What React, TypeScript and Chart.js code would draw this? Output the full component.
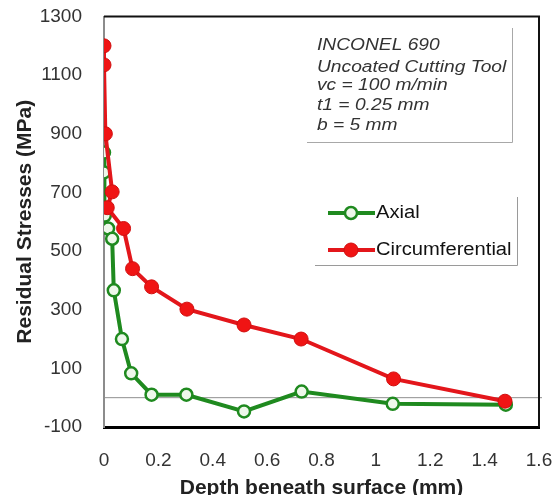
import { useEffect, useRef } from 'react';
import { Chart, registerables } from 'chart.js';

Chart.register(...registerables);

const seriesNames = ['Axial', 'Circumferential'];

const axialDepth = [0, 0, 0.003, 0.015, 0.03, 0.036, 0.066, 0.1, 0.175, 0.303, 0.515, 0.727, 1.062, 1.478];
const axialStress = [836, 768, 621, 577, 542, 366, 200, 83, 10, 10, -47, 21, -21, -24];

const circDepth = [0, 0, 0.005, 0.03, 0.012, 0.072, 0.105, 0.175, 0.305, 0.515, 0.725, 1.065, 1.475];
const circStress = [1200, 1135, 900, 702, 648, 577, 440, 378, 302, 248, 200, 64, -12];

const yTickValues = [-100, 100, 300, 500, 700, 900, 1100, 1300];
const xTickValues = [0, 0.2, 0.4, 0.6, 0.8, 1, 1.2, 1.4, 1.6];

const infoLines = ['INCONEL 690', 'Uncoated Cutting Tool', 'vc = 100 m/min', 't1 = 0.25 mm', 'b = 5 mm'];

const xTitle = 'Depth beneath surface (mm)';
const yTitle = 'Residual Stresses (MPa)';

const FONT = '"Liberation Sans", Arial, Helvetica, sans-serif';
const GREEN = '#1f8a1f';
const RED = '#e3161b';

const W = 544;
const H = 487;

export default function App() {
  const ref = useRef<HTMLCanvasElement>(null);

  useEffect(() => {
    const canvas = ref.current;
    if (!canvas) return;

    const decor = {
      id: 'decor',
      beforeDatasetsDraw(chart: any) {
        const { ctx, chartArea: a, scales } = chart;
        const y0 = scales.y.getPixelForValue(0);
        ctx.save();
        ctx.strokeStyle = '#8f8f8f';
        ctx.lineWidth = 1;
        ctx.beginPath();
        ctx.moveTo(a.left, y0);
        ctx.lineTo(a.right + 3, y0);
        ctx.stroke();
        ctx.restore();
      },
      afterDatasetsDraw(chart: any) {
        const { ctx, chartArea: a } = chart;
        ctx.save();
        ctx.strokeStyle = '#111';
        ctx.lineWidth = 2;
        ctx.beginPath();
        ctx.moveTo(a.left, a.top);
        ctx.lineTo(a.right, a.top);
        ctx.lineTo(a.right, a.bottom);
        ctx.stroke();
        ctx.restore();
      },
      afterDraw(chart: any) {
        const { ctx } = chart;
        ctx.save();
        // info box
        ctx.fillStyle = '#333';
        ctx.font = 'italic 16px ' + FONT;
        ctx.textBaseline = 'alphabetic';
        ctx.textAlign = 'left';
        const baselines = [42, 64, 82, 102, 122];
        infoLines.forEach((t, i) => {
          ctx.save();
          ctx.translate(309, baselines[i]);
          ctx.scale(1.2, 1);
          ctx.fillText(t, 0, 0);
          ctx.restore();
        });
        ctx.strokeStyle = '#a8a8a8';
        ctx.lineWidth = 1;
        ctx.beginPath();
        ctx.moveTo(299, 134.5);
        ctx.lineTo(504.5, 134.5);
        ctx.lineTo(504.5, 20);
        ctx.stroke();

        // legend
        const rows = [205, 242];
        chart.data.datasets.forEach((ds: any, i: number) => {
          const y = rows[i];
          ctx.strokeStyle = ds.borderColor;
          ctx.lineWidth = 4;
          ctx.beginPath();
          ctx.moveTo(320, y);
          ctx.lineTo(367, y);
          ctx.stroke();
          ctx.beginPath();
          ctx.arc(343, y, ds.pointRadius, 0, Math.PI * 2);
          ctx.fillStyle = ds.pointBackgroundColor;
          ctx.fill();
          ctx.lineWidth = ds.pointBorderWidth;
          ctx.strokeStyle = ds.pointBorderColor;
          ctx.stroke();
          ctx.fillStyle = '#111';
          ctx.font = '18px ' + FONT;
          ctx.textBaseline = 'middle';
          ctx.save();
          ctx.translate(368, y);
          ctx.scale(1.12, 1);
          ctx.fillText(ds.label, 0, 0);
          ctx.restore();
        });
        ctx.strokeStyle = '#9a9a9a';
        ctx.lineWidth = 1;
        ctx.beginPath();
        ctx.moveTo(307, 257.5);
        ctx.lineTo(509.5, 257.5);
        ctx.lineTo(509.5, 189);
        ctx.stroke();
        ctx.restore();
      },
    };

    const chart = new Chart(canvas, {
      type: 'line',
      data: {
        datasets: [
          {
            label: seriesNames[0],
            data: axialDepth.map((x, i) => ({ x, y: axialStress[i] })),
            borderColor: GREEN,
            borderWidth: 4,
            pointRadius: 6,
            pointBackgroundColor: '#eef8ea',
            pointBorderColor: GREEN,
            pointBorderWidth: 2.5,
            tension: 0,
            order: 1,
          },
          {
            label: seriesNames[1],
            data: circDepth.map((x, i) => ({ x, y: circStress[i] })),
            borderColor: RED,
            borderWidth: 4,
            pointRadius: 7,
            pointBackgroundColor: '#f01414',
            pointBorderColor: '#d00f0f',
            pointBorderWidth: 1,
            tension: 0,
            order: 0,
          },
        ],
      },
      options: {
        animation: false,
        responsive: false,
        devicePixelRatio: 1,
        layout: { padding: { top: 7, right: 13, left: 0, bottom: 0 } },
        plugins: {
          legend: { display: false },
          tooltip: { enabled: false },
        },
        scales: {
          x: {
            type: 'linear',
            min: 0,
            max: 1.6,
            afterBuildTicks: (s: any) => {
              s.ticks = xTickValues.map((v) => ({ value: v }));
            },
            afterFit: (s: any) => {
              s.height = 68;
              s.paddingLeft = 0;
              s.paddingRight = 0;
            },
            grid: { display: false, drawTicks: false },
            border: { display: true, color: '#000', width: 3 },
            ticks: {
              padding: 22,
              color: '#333',
              font: { family: FONT, size: 19 },
              maxRotation: 0,
              autoSkip: false,
              callback: (v: any) => String(v),
            },
            title: {
              display: true,
              text: xTitle,
              color: '#222',
              font: { family: FONT, size: 21, weight: 'bold', lineHeight: 1 },
              padding: { top: 0, bottom: -4 },
            },
          },
          y: {
            type: 'linear',
            min: -100,
            max: 1300,
            afterBuildTicks: (s: any) => {
              s.ticks = yTickValues.map((v) => ({ value: v }));
            },
            afterFit: (s: any) => {
              s.width = 96;
              s.paddingTop = 0;
              s.paddingBottom = 0;
            },
            grid: { display: false, drawTicks: false },
            border: { display: true, color: '#8c8c8c', width: 2 },
            ticks: {
              padding: 22,
              color: '#333',
              font: { family: FONT, size: 19 },
              autoSkip: false,
              callback: (v: any) => String(v),
            },
            title: {
              display: true,
              text: yTitle,
              color: '#222',
              font: { family: FONT, size: 21, weight: 'bold', lineHeight: 1.2 },
              padding: { top: 5, bottom: 0 },
            },
          },
        },
      },
      plugins: [decor],
    } as any);

    return () => chart.destroy();
  }, []);

  return (
    <div style={{ width: W, height: H }}>
      <canvas ref={ref} width={W} height={H} style={{ display: 'block', width: W, height: H }} />
    </div>
  );
}
